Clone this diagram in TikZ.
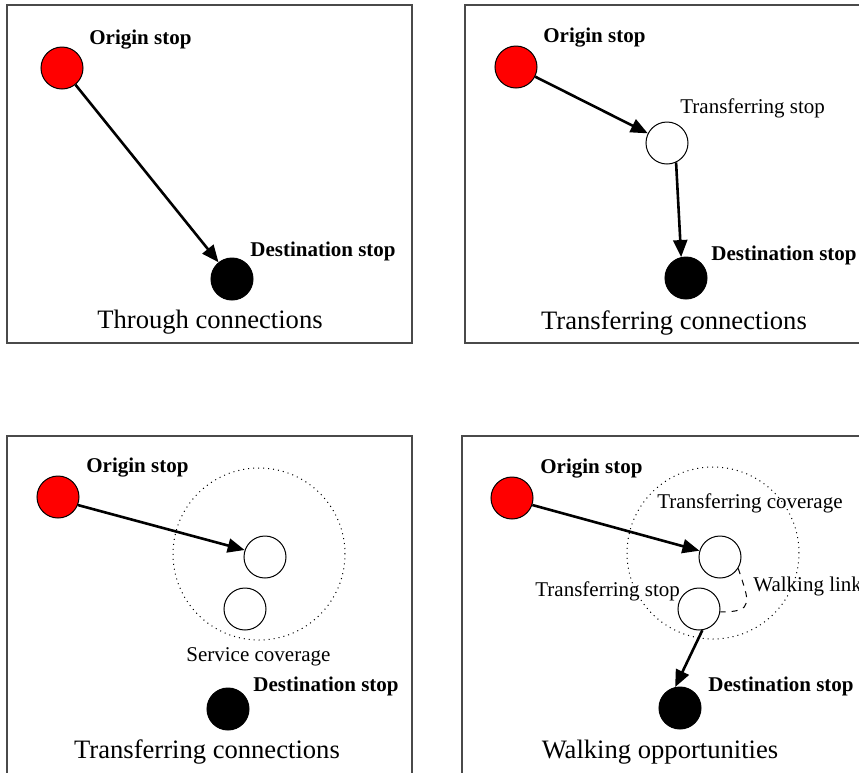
\documentclass[tikz,border=0pt]{standalone}
\usepackage{fontspec}
\setmainfont{Liberation Serif}
\usepackage{tikz}
\usetikzlibrary{arrows.meta}
\definecolor{frame}{HTML}{4A4A4A}
\definecolor{origred}{HTML}{FF0000}

\begin{document}
\begin{tikzpicture}[x=0.5pt,y=-0.5pt,
  stop/.style={circle,draw=black,line width=0.5pt,minimum size=21pt,inner sep=0pt},
  orig/.style={stop,fill=origred},
  dest/.style={stop,fill=black},
  xfer/.style={stop,fill=white},
  cover/.style={circle,draw=black,dotted,line width=0.5pt,minimum size=86pt,inner sep=0pt},
  bold/.style={anchor=west,inner sep=0pt,font=\fontsize{10.5}{12}\selectfont\bfseries},
  note/.style={anchor=west,inner sep=0pt,font=\fontsize{10.5}{12}\selectfont},
  panelcap/.style={inner sep=0pt,font=\fontsize{13.3}{15}\selectfont},
  ar/.style={-{Triangle[length=8.5pt,width=7pt]},line width=1.3pt}]
\useasboundingbox (0,0) rectangle (859,773);
\draw[frame,line width=0.6pt] (7,5) rectangle (412,343);
\draw[frame,line width=0.6pt] (465,5) rectangle (870,343);
\draw[frame,line width=0.6pt] (7,436) rectangle (412,790);
\draw[frame,line width=0.6pt] (462,436) rectangle (870,790);

\node[orig] (o1) at (62,68) {};
\node[dest] (d1) at (232,279) {};
\node[bold] (o1l) at (89,40) {Origin stop};
\node[bold] (d1l) at (250,251) {Destination stop};
\node[panelcap] (c1) at (210,322) {Through connections};
\draw[ar] (o1) -- (d1);

\node[orig] (o2) at (516,67) {};
\node[xfer] (t2) at (667,143) {};
\node[dest] (d2) at (686,278) {};
\node[bold] (o2l) at (543,38) {Origin stop};
\node[note] (t2l) at (680,108) {Transferring stop};
\node[bold] (d2l) at (711,255) {Destination stop};
\node[panelcap] (c2) at (674,323) {Transferring connections};
\draw[ar] (o2) -- (t2);
\draw[ar] (t2.-65) -- (d2.103);

\node[cover] (v3) at (259,554) {};
\node[orig] (o3) at (58,497) {};
\node[xfer] (t3) at (265,557) {};
\node[xfer] (s3) at (245,609) {};
\node[dest] (d3) at (228,709) {};
\node[bold] (o3l) at (86,468) {Origin stop};
\node[note] (v3l) at (186,657) {Service coverage};
\node[bold] (d3l) at (253,686) {Destination stop};
\node[panelcap] (c3) at (207,752) {Transferring connections};
\draw[ar] (o3.-22) -- (t3.161);

\node[cover] (v4) at (713,553) {};
\node[orig] (o4) at (512,498) {};
\node[xfer] (t4) at (720,557) {};
\node[xfer] (s4) at (699,609) {};
\node[dest] (d4) at (680,708) {};
\node[bold] (o4l) at (540,469) {Origin stop};
\node[note] (v4l) at (657,503) {Transferring coverage};
\node[note] (s4l) at (535,591) {Transferring stop};
\node[note] (w4l) at (753,586) {Walking link};
\node[bold] (d4l) at (708,686) {Destination stop};
\node[panelcap] (c4) at (660,752) {Walking opportunities};
\draw[ar] (o4.-19) -- (t4.163);
\draw[ar] (s4.-81) -- (d4.103);
\draw[dashed,line width=0.5pt] (t4.-32) to[out=-72,in=0,looseness=1.9] (s4.-8);
\end{tikzpicture}
\end{document}
